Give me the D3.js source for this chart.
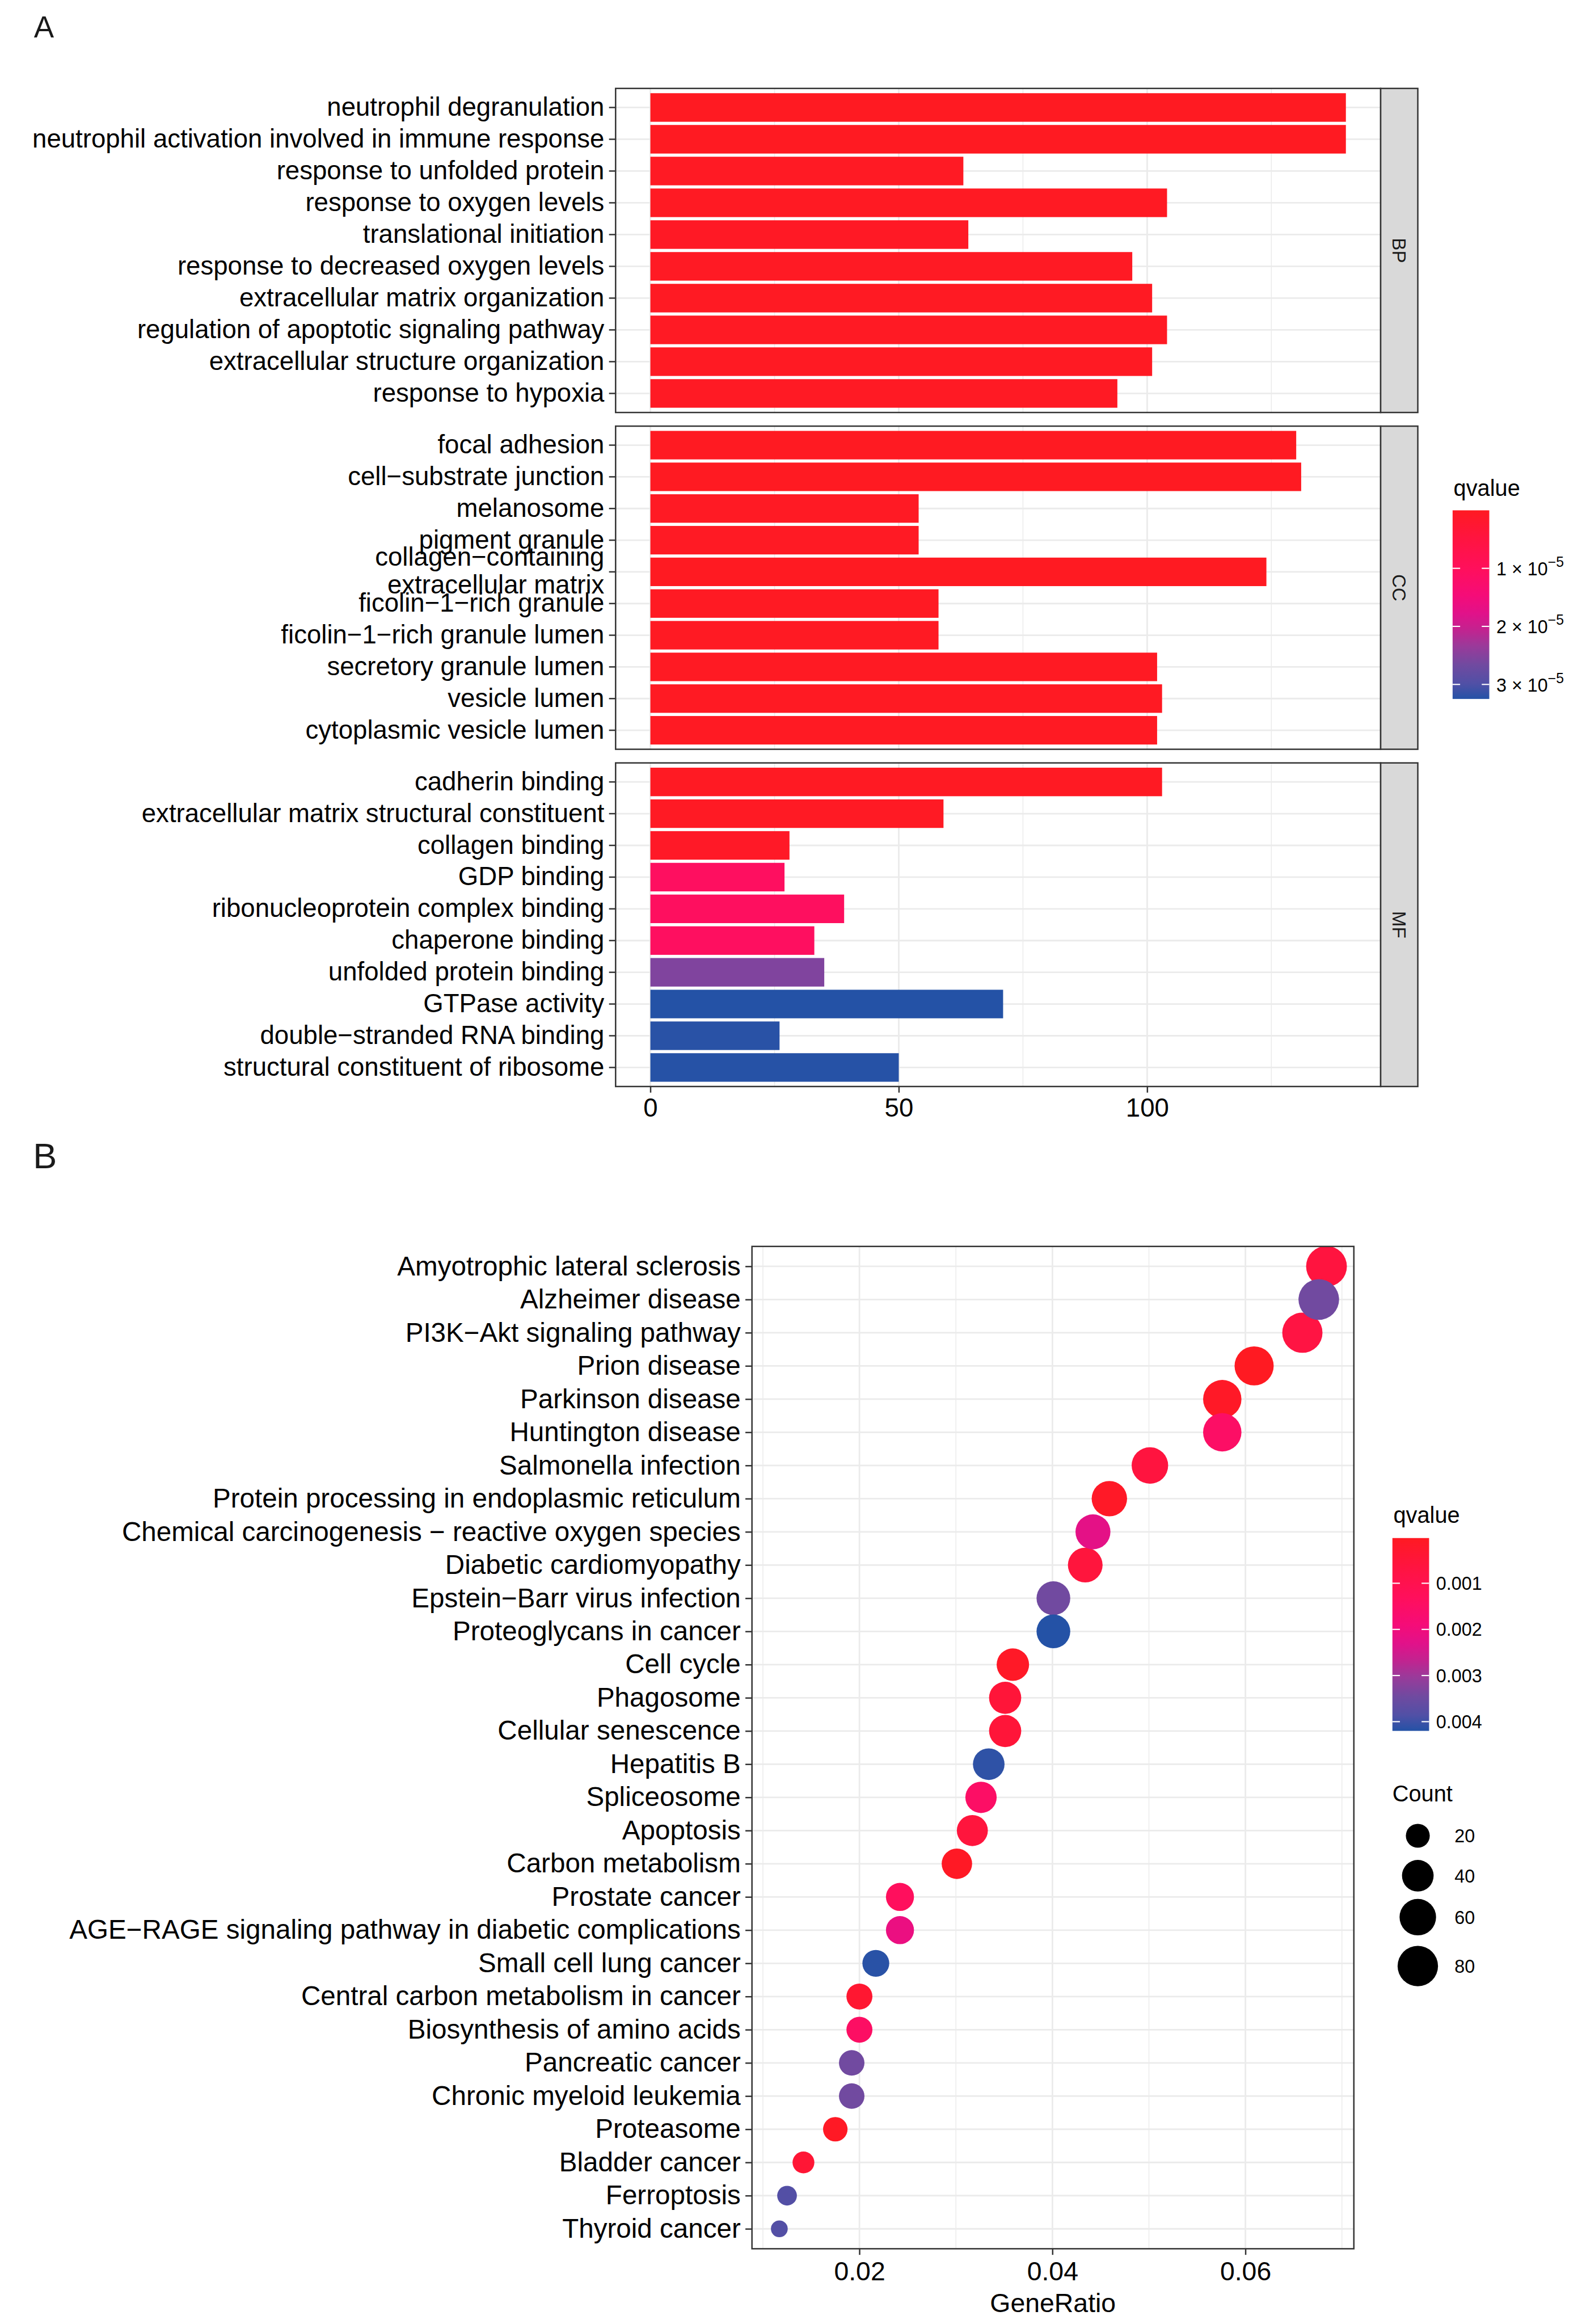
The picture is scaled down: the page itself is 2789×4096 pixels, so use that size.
<!DOCTYPE html>
<html>
<head>
<meta charset="utf-8">
<script src="https://cdn.jsdelivr.net/npm/d3@7"></script>
<style>
body { margin: 0; background: #fff; }
text { font-family: "Liberation Sans", Arial, Helvetica, sans-serif; }
</style>
</head>
<body>
<script>
// ---- panel A: GO enrichment (Count per term, coloured by qvalue) ----
var bpTerms = ["neutrophil degranulation", "neutrophil activation involved in immune response",
    "response to unfolded protein", "response to oxygen levels", "translational initiation",
    "response to decreased oxygen levels", "extracellular matrix organization",
    "regulation of apoptotic signaling pathway", "extracellular structure organization",
    "response to hypoxia"];
var bpCount = [140, 140, 63, 104, 64, 97, 101, 104, 101, 94];
var bpQ = [1e-8, 1e-8, 4e-7, 2e-7, 5e-7, 3e-7, 2e-7, 3e-7, 2e-7, 4e-7];

var ccTerms = ["focal adhesion", "cell\u2212substrate junction", "melanosome", "pigment granule",
    "collagen\u2212containing\nextracellular matrix", "ficolin\u22121\u2212rich granule",
    "ficolin\u22121\u2212rich granule lumen", "secretory granule lumen", "vesicle lumen",
    "cytoplasmic vesicle lumen"];
var ccCount = [130, 131, 54, 54, 124, 58, 58, 102, 103, 102];
var ccQ = [1e-8, 1e-8, 3e-7, 3e-7, 1e-8, 2e-7, 2e-7, 1e-7, 1e-7, 1e-7];

var mfTerms = ["cadherin binding", "extracellular matrix structural constituent", "collagen binding",
    "GDP binding", "ribonucleoprotein complex binding", "chaperone binding",
    "unfolded protein binding", "GTPase activity", "double\u2212stranded RNA binding",
    "structural constituent of ribosome"];
var mfCount = [103, 59, 28, 27, 39, 33, 35, 71, 26, 50];
var mfQ = [1e-7, 4e-7, 8e-7, 1.07e-5, 1.05e-5, 1.07e-5, 2.54e-5, 3.25e-5, 3.22e-5, 3.24e-5];

var goXTicks = [0, 50, 100];
var goXMinor = [25, 75, 125];
var goLegendTicks = [1e-5, 2e-5, 3e-5];

// ---- panel B: KEGG dot plot ----
var keggTerms = ["Amyotrophic lateral sclerosis", "Alzheimer disease", "PI3K\u2212Akt signaling pathway",
    "Prion disease", "Parkinson disease", "Huntington disease", "Salmonella infection",
    "Protein processing in endoplasmic reticulum", "Chemical carcinogenesis \u2212 reactive oxygen species",
    "Diabetic cardiomyopathy", "Epstein\u2212Barr virus infection", "Proteoglycans in cancer",
    "Cell cycle", "Phagosome", "Cellular senescence", "Hepatitis B", "Spliceosome", "Apoptosis",
    "Carbon metabolism", "Prostate cancer", "AGE\u2212RAGE signaling pathway in diabetic complications",
    "Small cell lung cancer", "Central carbon metabolism in cancer", "Biosynthesis of amino acids",
    "Pancreatic cancer", "Chronic myeloid leukemia", "Proteasome", "Bladder cancer", "Ferroptosis",
    "Thyroid cancer"];
var keggRatio = [0.0684, 0.0676, 0.0659, 0.0609, 0.0576, 0.0576, 0.0501, 0.0459, 0.0442, 0.0434,
    0.0401, 0.0401, 0.0359, 0.0351, 0.0351, 0.0334, 0.0326, 0.0317, 0.0301, 0.0242,
    0.0242, 0.0217, 0.0200, 0.0200, 0.0192, 0.0192, 0.0175, 0.0142, 0.0125, 0.0117];
var keggCount = [82, 81, 79, 73, 69, 69, 60, 55, 53, 52, 48, 48, 43, 42, 42, 40, 39, 38, 36, 29,
    29, 26, 24, 24, 23, 23, 21, 17, 15, 14];
var keggQ = [0.00063, 0.00344, 0.00071, 0.00002, 0.00013, 0.00151, 0.00063, 0.00013, 0.00223, 0.00059,
    0.00344, 0.0042, 0.00013, 0.0005, 0.0005, 0.00412, 0.00151, 0.00059, 0.00008, 0.00134,
    0.0021, 0.00416, 0.00034, 0.00147, 0.00344, 0.00344, 0.00008, 0.00042, 0.00382, 0.00382];

var keggXTicks = [0.02, 0.04, 0.06];
var keggXMinor = [0.01, 0.03, 0.05, 0.07];
var keggLegendTicks = [0.001, 0.002, 0.003, 0.004];
var countLegend = [20, 40, 60, 80];

// colour ramp (0 = lowest qvalue, 1 = highest)
var gradT = [0, 0.15, 0.31, 0.45, 0.55, 0.63, 0.72, 0.82, 0.92, 1];
var gradColors = ["#FF1A22", "#FF1440", "#FF0F5C", "#F50C78", "#E0128A", "#C4228F",
    "#9A3A9A", "#704AA0", "#5050A6", "#2452A6"];

var W = 3364, H = 4941;
var svg = d3.select("body").append("svg")
    .attr("width", 2789).attr("height", 4096)
    .attr("viewBox", "0 0 " + W + " " + H);

var GRID = "#EBEBEB", BORDER = "#333333";

function rampScale(domain) {
    var lo = domain[0], hi = domain[1];
    return d3.scaleLinear()
        .domain(gradT.map(function(t){ return lo + t * (hi - lo); }))
        .range(gradColors)
        .interpolate(d3.interpolateRgb)
        .clamp(true);
}

// gradient for the legend bars
var defs = svg.append("defs");
var grad = defs.append("linearGradient").attr("id", "qgrad")
    .attr("x1", 0).attr("y1", 0).attr("x2", 0).attr("y2", 1);
gradT.forEach(function(t, i){
    grad.append("stop").attr("offset", t).attr("stop-color", gradColors[i]);
});

function styleAxis(g, fs) {
    g.select(".domain").remove();
    g.selectAll(".tick line").attr("stroke", BORDER).attr("stroke-width", 3);
    g.selectAll(".tick text").attr("fill", "#000").attr("font-size", fs)
        .attr("font-family", "'Liberation Sans', Arial, sans-serif");
}

// ================= panel A =================
svg.append("text").attr("x", 72).attr("y", 80).attr("font-size", 64).attr("fill", "#1a1a1a").text("A");

var goAll = bpCount.concat(ccCount, mfCount);
var goQAll = bpQ.concat(ccQ, mfQ);
var goMax = d3.max(goAll);
var goQDomain = [d3.min(goQAll), d3.max(goQAll)];
var goColor = rampScale(goQDomain);

var ax = { left: 1309, right: 2936, strip: 3015 };
var xGO = d3.scaleLinear().domain([-0.05 * goMax, goMax * 1.05]).range([ax.left, ax.right]);

var facets = [
    { name: "BP", terms: bpTerms, count: bpCount, q: bpQ, top: 188, bottom: 877 },
    { name: "CC", terms: ccTerms, count: ccCount, q: ccQ, top: 906, bottom: 1593 },
    { name: "MF", terms: mfTerms, count: mfCount, q: mfQ, top: 1622, bottom: 2310 }
];

facets.forEach(function(f, fi){
    var g = svg.append("g");
    var y = d3.scaleBand().domain(f.terms).range([f.top, f.bottom])
        .paddingInner(0.1).paddingOuter(0.15);

    g.append("rect").attr("x", ax.left).attr("y", f.top)
        .attr("width", ax.right - ax.left).attr("height", f.bottom - f.top).attr("fill", "#fff");

    g.selectAll(".minor").data(goXMinor).enter().append("line")
        .attr("x1", xGO).attr("x2", xGO).attr("y1", f.top).attr("y2", f.bottom)
        .attr("stroke", GRID).attr("stroke-width", 1.8);
    g.selectAll(".vmajor").data(goXTicks).enter().append("line")
        .attr("x1", xGO).attr("x2", xGO).attr("y1", f.top).attr("y2", f.bottom)
        .attr("stroke", GRID).attr("stroke-width", 3.4);
    g.selectAll(".hmajor").data(f.terms).enter().append("line")
        .attr("x1", ax.left).attr("x2", ax.right)
        .attr("y1", function(d){ return y(d) + y.bandwidth() / 2; })
        .attr("y2", function(d){ return y(d) + y.bandwidth() / 2; })
        .attr("stroke", GRID).attr("stroke-width", 3.4);

    g.selectAll(".bar").data(f.terms).enter().append("rect")
        .attr("x", xGO(0))
        .attr("y", function(d){ return y(d); })
        .attr("width", function(d, i){ return xGO(f.count[i]) - xGO(0); })
        .attr("height", y.bandwidth())
        .attr("fill", function(d, i){ return goColor(f.q[i]); });

    g.append("rect").attr("x", ax.left).attr("y", f.top)
        .attr("width", ax.right - ax.left).attr("height", f.bottom - f.top)
        .attr("fill", "none").attr("stroke", BORDER).attr("stroke-width", 3);

    // facet strip
    g.append("rect").attr("x", ax.right).attr("y", f.top)
        .attr("width", ax.strip - ax.right).attr("height", f.bottom - f.top)
        .attr("fill", "#D9D9D9").attr("stroke", BORDER).attr("stroke-width", 3);
    var sx = (ax.right + ax.strip) / 2, sy = (f.top + f.bottom) / 2;
    g.append("text").attr("transform", "translate(" + sx + "," + sy + ") rotate(90)")
        .attr("text-anchor", "middle").attr("dy", "0.35em")
        .attr("font-size", 40).attr("fill", "#1a1a1a").text(f.name);

    // y axis
    var yAxis = g.append("g").attr("transform", "translate(" + ax.left + ",0)")
        .call(d3.axisLeft(y).tickSize(14).tickPadding(10));
    styleAxis(yAxis, 55);
    yAxis.selectAll(".tick text").each(function(d){
        if (d.indexOf("\n") < 0) return;
        var t = d3.select(this), lines = d.split("\n");
        t.text(null).attr("dy", null);
        lines.forEach(function(l, li){
            t.append("tspan").attr("x", t.attr("x"))
                .attr("dy", li === 0 ? "-0.23em" : "1.07em").text(l);
        });
    });

    if (fi === facets.length - 1) {
        var xAxis = g.append("g").attr("transform", "translate(0," + f.bottom + ")")
            .call(d3.axisBottom(xGO).tickValues(goXTicks).tickSize(13).tickPadding(12).tickFormat(d3.format("d")));
        styleAxis(xAxis, 55);
    }
});

// GO legend
var goLeg = { x: 3089, y: 1085, w: 78, h: 401 };
var goLegY = d3.scaleLinear().domain(goQDomain).range([goLeg.y, goLeg.y + goLeg.h]);
svg.append("text").attr("x", 3091).attr("y", 1054).attr("font-size", 48).attr("fill", "#000").text("qvalue");
svg.append("rect").attr("x", goLeg.x).attr("y", goLeg.y).attr("width", goLeg.w).attr("height", goLeg.h)
    .attr("fill", "url(#qgrad)");
goLegendTicks.forEach(function(v){
    var ty = goLegY(v);
    svg.append("line").attr("x1", goLeg.x).attr("x2", goLeg.x + 16).attr("y1", ty).attr("y2", ty)
        .attr("stroke", "#fff").attr("stroke-width", 2.5);
    svg.append("line").attr("x1", goLeg.x + goLeg.w - 16).attr("x2", goLeg.x + goLeg.w).attr("y1", ty).attr("y2", ty)
        .attr("stroke", "#fff").attr("stroke-width", 2.5);
    var ex = Math.floor(Math.log10(v)), man = Math.round(v / Math.pow(10, ex));
    var t = svg.append("text").attr("x", goLeg.x + goLeg.w + 15).attr("y", ty + 15)
        .attr("font-size", 39).attr("fill", "#000");
    t.append("tspan").text(man + " \u00d7 10");
    t.append("tspan").attr("font-size", 30).attr("dy", -18).text("\u2212" + Math.abs(ex));
});

// ================= panel B =================
svg.append("text").attr("x", 70).attr("y", 2484).attr("font-size", 76).attr("fill", "#1a1a1a").text("B");

var bx = { left: 1599, right: 2879, top: 2650, bottom: 4781 };
var rExt = d3.extent(keggRatio), rPad = 0.05 * (rExt[1] - rExt[0]);
var xK = d3.scaleLinear().domain([rExt[0] - rPad, rExt[1] + rPad]).range([bx.left, bx.right]);
var yK = d3.scalePoint().domain(keggTerms).range([bx.top, bx.bottom]).padding(0.6);
var keggQDomain = d3.extent(keggQ);
var keggColor = rampScale(keggQDomain);

var cExt = d3.extent(keggCount);
var sizeT = d3.scaleSqrt().domain([0, cExt[1] - cExt[0]]).range([0, 51]);
function diam(c) { return 35.7 + sizeT(Math.max(0, c - cExt[0])); }

var gB = svg.append("g");
gB.append("rect").attr("x", bx.left).attr("y", bx.top).attr("width", bx.right - bx.left)
    .attr("height", bx.bottom - bx.top).attr("fill", "#fff");
gB.selectAll(".minor").data(keggXMinor).enter().append("line")
    .attr("x1", xK).attr("x2", xK).attr("y1", bx.top).attr("y2", bx.bottom)
    .attr("stroke", GRID).attr("stroke-width", 1.8);
gB.selectAll(".vmajor").data(keggXTicks).enter().append("line")
    .attr("x1", xK).attr("x2", xK).attr("y1", bx.top).attr("y2", bx.bottom)
    .attr("stroke", GRID).attr("stroke-width", 3.4);
gB.selectAll(".hmajor").data(keggTerms).enter().append("line")
    .attr("x1", bx.left).attr("x2", bx.right).attr("y1", yK).attr("y2", yK)
    .attr("stroke", GRID).attr("stroke-width", 3.4);

// draw lowest qvalue first so later (higher q) points sit on top
var order = d3.range(keggTerms.length).sort(function(a, b){ return keggQ[a] - keggQ[b]; });
gB.selectAll(".dot").data(order).enter().append("circle")
    .attr("cx", function(i){ return xK(keggRatio[i]); })
    .attr("cy", function(i){ return yK(keggTerms[i]); })
    .attr("r", function(i){ return diam(keggCount[i]) / 2; })
    .attr("fill", function(i){ return keggColor(keggQ[i]); });

gB.append("rect").attr("x", bx.left).attr("y", bx.top).attr("width", bx.right - bx.left)
    .attr("height", bx.bottom - bx.top).attr("fill", "none").attr("stroke", BORDER).attr("stroke-width", 3);

var yAxB = gB.append("g").attr("transform", "translate(" + bx.left + ",0)")
    .call(d3.axisLeft(yK).tickSize(14).tickPadding(10));
styleAxis(yAxB, 57.4);
var xAxB = gB.append("g").attr("transform", "translate(0," + bx.bottom + ")")
    .call(d3.axisBottom(xK).tickValues(keggXTicks).tickSize(13).tickPadding(14).tickFormat(d3.format(".2f")));
styleAxis(xAxB, 56);
gB.append("text").attr("x", (bx.left + bx.right) / 2).attr("y", 4916).attr("text-anchor", "middle")
    .attr("font-size", 56).attr("fill", "#000").text("GeneRatio");

// KEGG legends
var kLeg = { x: 2961, y: 3270, w: 78, h: 410 };
var kLegY = d3.scaleLinear().domain(keggQDomain).range([kLeg.y, kLeg.y + kLeg.h]);
svg.append("text").attr("x", kLeg.x + 2).attr("y", 3238).attr("font-size", 48).attr("fill", "#000").text("qvalue");
svg.append("rect").attr("x", kLeg.x).attr("y", kLeg.y).attr("width", kLeg.w).attr("height", kLeg.h)
    .attr("fill", "url(#qgrad)");
keggLegendTicks.forEach(function(v){
    var ty = kLegY(v);
    svg.append("line").attr("x1", kLeg.x).attr("x2", kLeg.x + 16).attr("y1", ty).attr("y2", ty)
        .attr("stroke", "#fff").attr("stroke-width", 2.5);
    svg.append("line").attr("x1", kLeg.x + kLeg.w - 16).attr("x2", kLeg.x + kLeg.w).attr("y1", ty).attr("y2", ty)
        .attr("stroke", "#fff").attr("stroke-width", 2.5);
    svg.append("text").attr("x", kLeg.x + kLeg.w + 15).attr("y", ty + 14)
        .attr("font-size", 39).attr("fill", "#000").text(d3.format(".3f")(v));
});

svg.append("text").attr("x", 2961).attr("y", 3830).attr("font-size", 48).attr("fill", "#000").text("Count");
var countY = [3903, 3988, 4076, 4180];
countLegend.forEach(function(c, i){
    svg.append("circle").attr("cx", 3015).attr("cy", countY[i]).attr("r", diam(c) / 2).attr("fill", "#000");
    svg.append("text").attr("x", 3093).attr("y", countY[i] + 14).attr("font-size", 39)
        .attr("fill", "#000").text(c);
});
</script>
</body>
</html>
